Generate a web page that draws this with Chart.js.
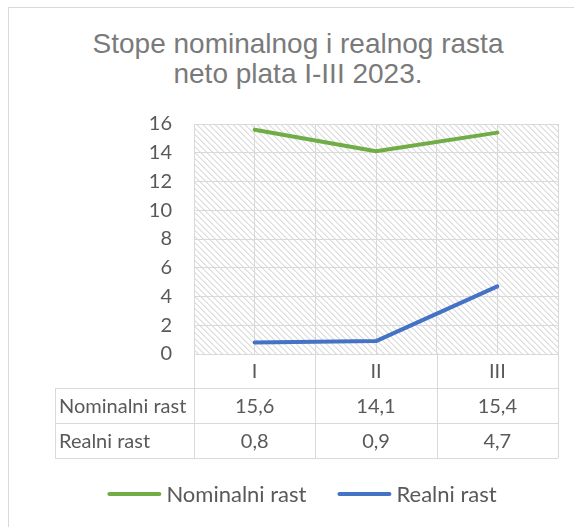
<!DOCTYPE html>
<html>
<head>
<meta charset="utf-8">
<script src="https://cdn.jsdelivr.net/npm/chart.js@4.4.0/dist/chart.umd.min.js"></script>
<style>
  html, body { margin: 0; padding: 0; background: #fff; overflow: hidden; }
  #wrap { position: relative; width: 574px; height: 527px; overflow: hidden; }
  #frame { position: absolute; left: 8px; top: 7px; width: 640px; height: 640px; border: 1px solid #d9d9d9; box-sizing: border-box; }
  #title { position: absolute; left: 8px; width: 580px; top: 29px; text-align: center;
           font-family: 'Liberation Sans', Arial, sans-serif; font-size: 28px; line-height: 30px; color: #7a7a7a; }
  canvas { position: absolute; left: 0; top: 0; }
</style>
</head>
<body>
<div id="wrap">
  <div id="frame"></div>
  <div id="title">Stope nominalnog i realnog rasta<br>neto plata I-III 2023.</div>
  <canvas id="chart" width="574" height="527"></canvas>
</div>
<script>
// Data
const months = ['I', 'II', 'III'];
const nominalRast = [15.6, 14.1, 15.4];
const realniRast = [0.8, 0.9, 4.7];
const yTicks = [0, 2, 4, 6, 8, 10, 12, 14, 16];

const GRID = '#d9d9d9';
const TEXT = '#595959';
const FONT = "Lato, 'Noto Sans', sans-serif";

// comma as decimal separator, like the source table
const fmt = v => v.toFixed(1).replace('.', ',');

// diagonal hatch used as the plot background
function makeHatch(ctx) {
    const c = document.createElement('canvas');
    c.width = 6; c.height = 6;
    const p = c.getContext('2d');
    for (let i = 0; i < 6; i++) {
        p.fillStyle = '#dcdcdc';
        p.fillRect(i, i, 1, 1);
        p.fillStyle = '#ececec';
        p.fillRect((i + 1) % 6, i, 1, 1);
    }
    return ctx.createPattern(c, 'repeat');
}

const hatchPlugin = {
    id: 'hatch',
    beforeDraw(chart) {
        const { ctx, chartArea: a } = chart;
        ctx.save();
        ctx.fillStyle = makeHatch(ctx);
        ctx.fillRect(a.left, a.top, a.right - a.left, a.bottom - a.top);
        ctx.restore();
    }
};

// data table under the plot + legend
const tablePlugin = {
    id: 'dataTable',
    afterDraw(chart) {
        const { ctx, chartArea: a } = chart;
        const xs = chart.scales.x;
        const centers = months.map((_, i) => xs.getPixelForValue(i));
        const half = (centers[1] - centers[0]) / 2;
        const bounds = centers.map(c => c - half).concat([centers[centers.length - 1] + half]);
        const left = 55;
        const rowH = [34, 35, 35];
        const y0 = a.bottom;
        const y1 = y0 + rowH[0], y2 = y1 + rowH[1], y3 = y2 + rowH[2];
        const px = v => Math.round(v) + 0.5;

        ctx.save();
        ctx.strokeStyle = GRID;
        ctx.lineWidth = 1;
        ctx.beginPath();
        bounds.forEach(b => { ctx.moveTo(px(b), y0); ctx.lineTo(px(b), y3); });
        ctx.moveTo(bounds[0], px(y0)); ctx.lineTo(bounds[bounds.length - 1], px(y0));
        [y1, y2, y3].forEach(y => { ctx.moveTo(left, px(y)); ctx.lineTo(bounds[bounds.length - 1], px(y)); });
        ctx.moveTo(px(left), y1); ctx.lineTo(px(left), y3);
        ctx.stroke();

        ctx.fillStyle = TEXT;
        ctx.font = '20px ' + FONT;
        ctx.textBaseline = 'middle';
        ctx.textAlign = 'center';
        months.forEach((m, i) => ctx.fillText(m, centers[i], (y0 + y1) / 2 + 1));

        const rows = [
            { label: chart.data.datasets[0].label, vals: nominalRast, y: (y1 + y2) / 2 + 1 },
            { label: chart.data.datasets[1].label, vals: realniRast, y: (y2 + y3) / 2 + 1 }
        ];
        rows.forEach(r => {
            ctx.textAlign = 'left';
            ctx.fillText(r.label, left + 4, r.y);
            ctx.textAlign = 'center';
            r.vals.forEach((v, i) => ctx.fillText(fmt(v), centers[i], r.y));
        });

        // legend
        ctx.font = '22px ' + FONT;
        const lineLen = 54, gapText = 5, gapItem = 31;
        const items = chart.data.datasets.map(d => ({ label: d.label, color: d.borderColor, w: ctx.measureText(d.label).width }));
        const total = items.reduce((s, it) => s + lineLen + gapText + it.w, 0) + gapItem * (items.length - 1);
        let x = 302 - total / 2;
        const ly = 494;
        items.forEach(it => {
            ctx.strokeStyle = it.color;
            ctx.lineWidth = 4;
            ctx.lineCap = 'round';
            ctx.beginPath();
            ctx.moveTo(x + 2, ly);
            ctx.lineTo(x + lineLen - 2, ly);
            ctx.stroke();
            ctx.textAlign = 'left';
            ctx.fillStyle = TEXT;
            ctx.fillText(it.label, x + lineLen + gapText, ly + 1);
            x += lineLen + gapText + it.w + gapItem;
        });
        ctx.restore();
    }
};

new Chart(document.getElementById('chart'), {
    type: 'line',
    data: {
        labels: months,
        datasets: [
            { label: 'Nominalni rast', data: nominalRast, borderColor: '#70ad47', backgroundColor: '#70ad47',
              borderWidth: 4, pointRadius: 0, tension: 0, borderCapStyle: 'round', borderJoinStyle: 'round' },
            { label: 'Realni rast', data: realniRast, borderColor: '#4472c4', backgroundColor: '#4472c4',
              borderWidth: 4, pointRadius: 0, tension: 0, borderCapStyle: 'round', borderJoinStyle: 'round' }
        ]
    },
    options: {
        responsive: false,
        animation: false,
        layout: { padding: { left: 134, right: 16, top: 124, bottom: 173 } },
        plugins: {
            legend: { display: false },
            title: { display: false },
            tooltip: { enabled: false }
        },
        scales: {
            x: {
                offset: true,
                grid: { offset: true, color: GRID, drawTicks: false },
                border: { display: false },
                ticks: { display: false },
                afterFit: s => { s.height = 0; }
            },
            xMid: {
                type: 'category',
                position: 'bottom',
                offset: true,
                grid: { offset: false, color: GRID, drawTicks: false },
                border: { display: false },
                ticks: { display: false },
                afterFit: s => { s.height = 0; }
            },
            y: {
                min: 0,
                max: 16,
                afterBuildTicks: s => { s.ticks = yTicks.map(v => ({ value: v })); },
                ticks: { autoSkip: false, padding: 22, color: TEXT, font: { family: FONT, size: 20 } },
                grid: { color: GRID, drawTicks: false },
                border: { display: false },
                afterFit: s => { s.width = 60; }
            }
        }
    },
    plugins: [hatchPlugin, tablePlugin]
});
</script>
</body>
</html>
